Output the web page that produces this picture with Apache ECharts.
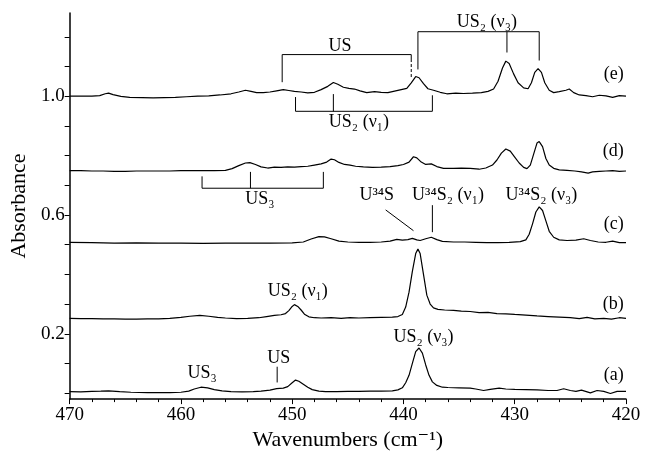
<!DOCTYPE html>
<html><head><meta charset="utf-8">
<script src="https://cdn.jsdelivr.net/npm/echarts@6/dist/echarts.min.js"></script>
<style>html,body{margin:0;padding:0;background:#fff}#c{width:645px;height:456px}</style>
</head><body><div id="c"></div>
<script>
const FONT = "'Liberation Serif','DejaVu Serif',serif";
const xTicks = [470,460,450,440,430,420];
const yTickValues = [0,0.1,0.2,0.3,0.4,0.5,0.6,0.7,0.8,0.9,1.0,1.1,1.2];
const yLabelValues = [0.2,0.6,1.0];
const traceLabels = ['(a)','(b)','(c)','(d)','(e)'];

const traceA = [[470,0.005],[469,0.004],[468,0.006],[467.2,0.007],[466.5,0.008],[465.5,0.005],[464.5,0.003],[463,0.002],[462,0.002],[461,0.002],[460,0.003],[459.3,0.007],[458.8,0.014],[458.2,0.02],[457.6,0.018],[457,0.012],[456.3,0.008],[455.5,0.005],[454.5,0.004],[453.5,0.005],[452.8,0.007],[452,0.01],[451.4,0.015],[450.8,0.017],[450.4,0.022],[450.0,0.035],[449.7,0.044],[449.4,0.040],[449.0,0.030],[448.6,0.020],[448.2,0.012],[447.6,0.007],[447,0.005],[446,0.005],[445,0.006],[444,0.006],[443,0.007],[442,0.007],[441,0.008],[440.5,0.011],[440.1,0.018],[439.8,0.035],[439.5,0.06],[439.2,0.10],[438.9,0.14],[438.6,0.152],[438.3,0.135],[438.0,0.095],[437.7,0.06],[437.4,0.038],[437,0.026],[436.5,0.02],[436,0.019],[435,0.018],[434,0.017],[433.5,0.014],[432.8,0.009],[432.2,0.013],[431.4,0.017],[430.8,0.014],[430,0.013],[429,0.012],[428,0.011],[427,0.009],[426.2,0.009],[425.6,0.015],[425,0.009],[424.5,0.006],[424,0.01],[423.2,0.001],[422.6,0.009],[422,0.006],[421.4,-0.001],[420.8,0.006],[420,0.006]];
const traceB = [[470,0.252],[469,0.251],[468,0.251],[467,0.25],[466,0.25],[465,0.249],[464,0.249],[463,0.25],[462,0.25],[461,0.252],[460,0.255],[459.2,0.259],[458.3,0.262],[457.5,0.259],[456.7,0.255],[456,0.253],[455,0.251],[454,0.252],[453,0.254],[452.3,0.258],[451.6,0.262],[451,0.264],[450.6,0.268],[450.3,0.278],[450,0.292],[449.8,0.298],[449.5,0.292],[449.2,0.28],[448.9,0.266],[448.5,0.257],[448,0.254],[447.4,0.253],[446.5,0.254],[445.6,0.252],[444.8,0.254],[444,0.253],[443,0.254],[442,0.255],[441,0.256],[440.5,0.258],[440.1,0.265],[439.8,0.29],[439.5,0.34],[439.2,0.41],[438.9,0.47],[438.7,0.485],[438.5,0.47],[438.2,0.40],[437.9,0.33],[437.6,0.30],[437.3,0.287],[436.9,0.282],[436.3,0.28],[435.5,0.279],[434.8,0.276],[434,0.275],[433.2,0.271],[432.4,0.272],[431.6,0.268],[430.8,0.267],[430,0.265],[429,0.263],[428,0.26],[427,0.258],[426,0.256],[425,0.254],[424.2,0.251],[423.5,0.255],[422.8,0.25],[422,0.252],[421.3,0.249],[420.6,0.254],[420,0.252]];
const traceC = [[470,0.508],[468,0.507],[466,0.505],[464,0.506],[462,0.505],[460,0.505],[458,0.504],[456,0.505],[454,0.505],[452,0.505],[450,0.506],[449,0.509],[448.3,0.519],[447.6,0.527],[447.1,0.526],[446.5,0.52],[445.8,0.512],[445,0.509],[444,0.508],[443,0.508],[442,0.509],[441.2,0.512],[440.6,0.518],[440.1,0.515],[439.6,0.517],[439.2,0.521],[438.8,0.516],[438.5,0.514],[438.0,0.52],[437.5,0.525],[437.0,0.517],[436.5,0.511],[435.5,0.509],[434.5,0.509],[433.5,0.508],[432.5,0.507],[431.5,0.507],[430.5,0.508],[429.5,0.51],[429.0,0.516],[428.7,0.535],[428.4,0.57],[428.1,0.61],[427.8,0.627],[427.5,0.615],[427.2,0.58],[426.9,0.545],[426.5,0.525],[426,0.516],[425.3,0.514],[424.5,0.515],[423.8,0.52],[423.2,0.514],[422.5,0.509],[421.8,0.508],[421.2,0.512],[420.6,0.507],[420,0.507]];
const traceD = [[470,0.749],[469,0.749],[468,0.748],[467,0.748],[466,0.747],[465,0.747],[464,0.748],[463,0.748],[462,0.748],[461,0.748],[460,0.749],[459,0.749],[458,0.749],[457,0.749],[456,0.75],[455.4,0.756],[454.8,0.766],[454.2,0.775],[453.8,0.776],[453.3,0.77],[452.8,0.762],[452.2,0.758],[451.6,0.761],[451,0.76],[450.4,0.762],[449.8,0.761],[449.2,0.763],[448.6,0.764],[448,0.768],[447.4,0.772],[446.9,0.778],[446.5,0.788],[446.2,0.786],[445.8,0.777],[445.3,0.77],[444.8,0.768],[444.3,0.764],[443.6,0.762],[442.8,0.76],[442,0.761],[441.2,0.763],[440.5,0.766],[440,0.77],[439.5,0.778],[439.1,0.796],[438.8,0.792],[438.4,0.778],[438,0.77],[437.5,0.772],[437,0.763],[436.4,0.757],[435.5,0.757],[434.8,0.758],[434,0.757],[433.2,0.754],[432.6,0.758],[432,0.768],[431.6,0.785],[431.2,0.808],[430.8,0.822],[430.4,0.815],[430,0.795],[429.6,0.775],[429.2,0.76],[428.9,0.756],[428.6,0.768],[428.3,0.805],[428.0,0.842],[427.8,0.847],[427.5,0.83],[427.2,0.79],[426.9,0.768],[426.5,0.757],[426,0.752],[425.3,0.75],[424.6,0.748],[424,0.745],[423.4,0.741],[423,0.745],[422.4,0.747],[421.8,0.748],[421.2,0.749],[420.6,0.747],[420,0.748]];
const traceE = [[470,1.0],[469,1.0],[468,1.0],[467.3,1.002],[466.8,1.008],[466.5,1.01],[466.1,1.005],[465.4,0.999],[464.6,0.996],[463.5,0.995],[462.5,0.994],[461.5,0.995],[460.5,0.996],[459.5,0.998],[458.5,1.0],[457.5,1.001],[456.5,1.004],[455.5,1.008],[454.8,1.014],[454.2,1.02],[453.7,1.016],[453.2,1.012],[452.6,1.012],[452,1.014],[451.4,1.018],[450.8,1.022],[450.3,1.019],[449.8,1.016],[449.2,1.014],[448.6,1.011],[448,1.013],[447.4,1.022],[446.8,1.033],[446.3,1.046],[445.9,1.04],[445.4,1.03],[444.9,1.026],[444.4,1.024],[443.9,1.018],[443.3,1.012],[442.6,1.015],[442,1.013],[441.4,1.012],[440.8,1.017],[440.2,1.022],[439.7,1.026],[439.3,1.045],[438.9,1.066],[438.6,1.062],[438.2,1.042],[437.8,1.025],[437.3,1.02],[436.7,1.013],[436.1,1.008],[435.3,1.01],[434.6,1.009],[433.8,1.01],[433,1.012],[432.4,1.016],[431.9,1.024],[431.5,1.05],[431.1,1.095],[430.8,1.118],[430.5,1.11],[430.1,1.075],[429.7,1.045],[429.2,1.028],[428.8,1.025],[428.5,1.045],[428.2,1.08],[427.9,1.093],[427.6,1.08],[427.3,1.045],[426.9,1.02],[426.5,1.012],[426,1.015],[425.4,1.02],[425.1,1.024],[424.7,1.012],[424.2,1.004],[423.6,1.002],[423,0.998],[422.4,1.003],[421.8,1.001],[421.2,0.996],[420.6,1.002],[420,1.0]];
const traces = [traceA, traceB, traceC, traceD, traceE];

// annotation anchors in data coordinates [wavenumber, absorbance]
const labelPos = [0.06, 0.30, 0.569, 0.815, 1.074];
const annoTexts = [
  {t:'US', p:[445.7,1.168]},
  {t:'US₂ (ν₃)', p:[432.5,1.248]},
  {t:'US₂ (ν₁)', p:[444.0,0.912]},
  {t:'US₃', p:[452.9,0.653]},
  {t:'U³⁴S', p:[442.4,0.667]},
  {t:'U³⁴S₂ (ν₁)', p:[436.0,0.667]},
  {t:'U³⁴S₂ (ν₃)', p:[427.6,0.667]},
  {t:'US₂ (ν₁)', p:[449.5,0.343]},
  {t:'US₃', p:[458.1,0.068]},
  {t:'US', p:[451.2,0.117]},
  {t:'US₂ (ν₃)', p:[438.2,0.1875]}
];
const annoLines = [
  {d:false, p:[[450.9,1.047],[450.9,1.14],[439.3,1.14],[439.3,1.125]]},
  {d:true, p:[[439.3,1.125],[439.3,1.06]]},
  {d:false, p:[[438.7,1.09],[438.7,1.217],[427.8,1.217],[427.8,1.12]]},
  {d:false, p:[[430.7,1.217],[430.7,1.147]]},
  {d:false, p:[[449.7,0.997],[449.7,0.949],[437.4,0.949],[437.4,1.003]]},
  {d:false, p:[[446.3,0.949],[446.3,1.007]]},
  {d:false, p:[[458.1,0.73],[458.1,0.69],[447.2,0.69],[447.2,0.745]]},
  {d:false, p:[[453.75,0.69],[453.75,0.745]]},
  {d:false, p:[[441.6,0.617],[439.1,0.547]]},
  {d:false, p:[[437.4,0.633],[437.4,0.542]]},
  {d:false, p:[[451.35,0.089],[451.35,0.036]]}
];

const chart = echarts.init(document.getElementById('c'), null, {renderer:'canvas'});
chart.setOption({
  animation:false,
  backgroundColor:'#fff',
  grid:{left:63,right:19,top:13,bottom:53,containLabel:false},
  xAxis:{
    type:'value', min:420, max:470, interval:10, inverse:true,
    name:'Wavenumbers (cm⁻¹)', nameLocation:'middle', nameGap:22,
    nameTextStyle:{fontFamily:FONT,fontSize:22,color:'#000'},
    axisLine:{show:true,onZero:false,lineStyle:{color:'#000',width:1.5}},
    axisTick:{show:true,length:5,lineStyle:{color:'#000',width:1}},
    minorTick:{show:true,splitNumber:5,length:3,lineStyle:{color:'#000',width:1}},
    axisLabel:{fontFamily:FONT,fontSize:19,color:'#000',margin:6,customValues:xTicks},
    splitLine:{show:false}
  },
  yAxis:{
    type:'value', min:-0.02, max:1.28,
    name:'Absorbance', nameLocation:'middle', nameGap:34, nameRotate:90,
    nameTextStyle:{fontFamily:FONT,fontSize:22,color:'#000'},
    axisLine:{show:true,onZero:false,lineStyle:{color:'#000',width:1.5}},
    axisTick:{show:true,length:5,customValues:yTickValues,lineStyle:{color:'#000',width:1}},
    axisLabel:{fontFamily:FONT,fontSize:19,color:'#000',margin:5,customValues:yLabelValues,
      formatter:v=>v.toFixed(1)},
    splitLine:{show:false}
  },
  series:traces.map((d,i)=>({
    type:'line', name:traceLabels[i], data:d, symbol:'none', silent:true,
    lineStyle:{color:'#000',width:1.2}
  }))
});

function px(p){ return chart.convertToPixel({gridIndex:0}, p); }
const g = [];
annoLines.forEach(l=>{
  g.push({type:'polyline', silent:true, shape:{points:l.p.map(px)},
    style:{stroke:'#000',lineWidth:1,fill:null,lineDash:l.d?[3,2]:null}});
});
annoTexts.forEach(a=>{
  const q = px(a.p);
  g.push({type:'text', silent:true, x:q[0], y:q[1],
    style:{text:a.t,font:'18px '+FONT,fill:'#000',align:'center',verticalAlign:'middle'}});
});
traceLabels.forEach((t,i)=>{
  const q = px([420.2, labelPos[i]]);
  g.push({type:'text', silent:true, x:q[0], y:q[1],
    style:{text:t,font:'18px '+FONT,fill:'#000',align:'right',verticalAlign:'middle'}});
});
chart.setOption({graphic:g});
</script></body></html>
